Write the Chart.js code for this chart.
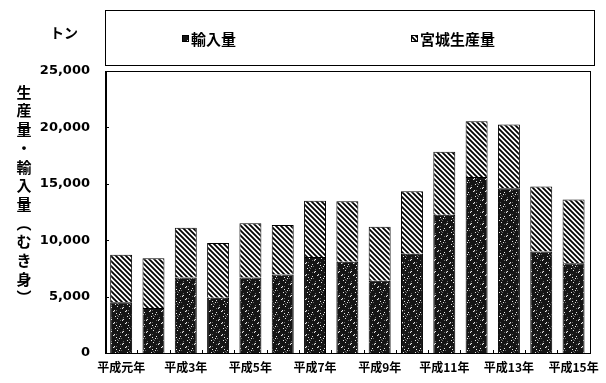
<!DOCTYPE html>
<html>
<head>
<meta charset="utf-8">
<script src="https://cdn.jsdelivr.net/npm/chart.js@4/dist/chart.umd.min.js"></script>
<style>
  html, body { margin: 0; padding: 0; background: #fff; }
  #wrap { width: 606px; height: 383px; position: relative; }
</style>
</head>
<body>
<div id="wrap"><canvas id="c" width="606" height="383"></canvas></div>
<script>
// 年次（平成元年〜平成15年）
const years = ['平成元年', '平成2年', '平成3年', '平成4年', '平成5年', '平成6年', '平成7年', '平成8年',
               '平成9年', '平成10年', '平成11年', '平成12年', '平成13年', '平成14年', '平成15年'];
// 輸入量（トン、むき身）
const importVol = [4500, 4000, 6700, 4900, 6700, 6950, 8500, 8100, 6400, 8800, 12250, 15600, 14600, 9000, 7950];
// 宮城生産量（トン、むき身）
const miyagiVol = [4200, 4400, 4400, 4850, 4800, 4400, 5000, 5350, 4800, 5550, 5600, 4950, 5650, 5750, 5650];
// 縦軸の目盛
const yTicks = [0, 5000, 10000, 15000, 20000, 25000];

const seriesNames = ['輸入量', '宮城生産量'];
const unitLabel = 'トン';
const yTitle = ['生', '産', '量', '・', '輸', '入', '量', '︵', 'む', 'き', '身', '︶'];

const JP = '"Noto Sans CJK JP", "Noto Sans", sans-serif';

// 網点パターン（輸入量）
function makeStipple() {
  const t = document.createElement('canvas');
  t.width = 12; t.height = 12;
  const g = t.getContext('2d');
  g.fillStyle = '#151515';
  g.fillRect(0, 0, 12, 12);
  for (let i = 0; i < 12; i++) {
    for (let j = 0; j < 12; j++) {
      const h = (i * 7 + j * 5 + i * j * 3) % 17;
      if (h === 0) { g.fillStyle = '#e8e8e8'; g.fillRect(i, j, 1, 1); }
      else if (h === 6) { g.fillStyle = '#666666'; g.fillRect(i, j, 1, 1); }
    }
  }
  return g.createPattern(t, 'repeat');
}

// 斜線パターン（宮城生産量）
function makeHatch() {
  const s = 5;
  const t = document.createElement('canvas');
  t.width = s; t.height = s;
  const g = t.getContext('2d');
  g.fillStyle = '#ffffff';
  g.fillRect(0, 0, s, s);
  g.strokeStyle = '#000000';
  g.lineWidth = 1.8;
  g.beginPath();
  g.moveTo(-1, -1); g.lineTo(s + 1, s + 1);
  g.moveTo(-1, s - 1); g.lineTo(1, s + 1);
  g.moveTo(s - 1, -1); g.lineTo(s + 1, 1);
  g.stroke();
  return g.createPattern(t, 'repeat');
}

const stipple = makeStipple();
const hatch = makeHatch();

// 枠・凡例・縦書きタイトルなどの描画
const decor = {
  id: 'decor',
  afterDraw(chart) {
    const ctx = chart.ctx;
    const a = chart.chartArea;
    const xs = chart.scales.x, ys = chart.scales.y;
    ctx.save();

    // プロット枠
    ctx.strokeStyle = '#000';
    ctx.lineWidth = 1;
    ctx.strokeRect(Math.round(a.left) + 0.5, Math.round(a.top) + 0.5,
                   Math.round(a.right - a.left), Math.round(a.bottom - a.top));
    ctx.lineWidth = 2;
    ctx.beginPath();
    ctx.moveTo(Math.round(a.left) + 1, a.top);
    ctx.lineTo(Math.round(a.left) + 1, a.bottom + 1);
    ctx.stroke();

    // 内向きの目盛線
    ctx.lineWidth = 1;
    ctx.beginPath();
    yTicks.forEach(v => {
      const y = Math.round(ys.getPixelForValue(v)) + 0.5;
      ctx.moveTo(a.left, y); ctx.lineTo(a.left + 4, y);
    });
    for (let i = 0; i <= years.length; i++) {
      const x = Math.round(xs.getPixelForValue(i - 0.5)) + 0.5;
      ctx.moveTo(x, a.bottom); ctx.lineTo(x, a.bottom - 3);
    }
    ctx.stroke();

    // 凡例枠
    ctx.strokeRect(105.5, 10.5, 489, 55);
    ctx.fillStyle = '#000';
    ctx.font = 'bold 15px ' + JP;
    ctx.textBaseline = 'middle';
    ctx.textAlign = 'left';
    const items = [
      { x: 182, fill: stipple, label: seriesNames[0] },
      { x: 411, fill: hatch, label: seriesNames[1] }
    ];
    items.forEach(it => {
      ctx.fillStyle = it.fill;
      ctx.fillRect(it.x, 35, 7, 7);
      ctx.strokeStyle = '#000';
      ctx.strokeRect(it.x + 0.5, 35.5, 6, 6);
      ctx.fillStyle = '#000';
      ctx.fillText(it.label, it.x + 9, 39);
    });

    // 単位
    ctx.font = 'bold 14px ' + JP;
    ctx.textAlign = 'center';
    ctx.fillText(unitLabel, 64, 33);

    // 縦書き軸タイトル
    ctx.font = 'bold 15px ' + JP;
    yTitle.forEach((ch, i) => {
      ctx.fillText(ch, 24, 92 + i * 18.7);
    });

    ctx.restore();
  }
};

new Chart(document.getElementById('c'), {
  type: 'bar',
  data: {
    labels: years,
    datasets: [
      {
        label: seriesNames[0],
        data: importVol,
        backgroundColor: stipple,
        borderColor: '#000',
        borderWidth: 1,
        barPercentage: 0.68,
        categoryPercentage: 1
      },
      {
        label: seriesNames[1],
        data: miyagiVol,
        backgroundColor: hatch,
        borderColor: '#000',
        borderWidth: 1,
        barPercentage: 0.68,
        categoryPercentage: 1
      }
    ]
  },
  options: {
    responsive: false,
    animation: false,
    devicePixelRatio: 1,
    layout: { padding: { top: 71, right: 11, bottom: 0, left: 0 } },
    plugins: {
      legend: { display: false },
      tooltip: { enabled: false },
      title: { display: false }
    },
    scales: {
      x: {
        stacked: true,
        grid: { display: false, drawTicks: false },
        border: { display: false },
        afterFit(s) { s.height = 30; },
        ticks: {
          autoSkip: false,
          maxRotation: 0,
          minRotation: 0,
          padding: 7,
          color: '#000',
          font: { family: JP, size: 12, weight: 'bold' },
          callback(v, i) { return i % 2 === 0 ? years[i] : ''; }
        }
      },
      y: {
        stacked: true,
        min: 0,
        max: 25000,
        grid: { display: false, drawTicks: false },
        border: { display: false },
        afterFit(s) { s.width = 105; },
        afterBuildTicks(s) { s.ticks = yTicks.map(v => ({ value: v })); },
        ticks: {
          padding: 15,
          color: '#000',
          font: { family: '"DejaVu Sans", sans-serif', size: 13, weight: 'bold' },
          callback(v) { return v.toLocaleString('en-US'); }
        }
      }
    }
  },
  plugins: [decor]
});
</script>
</body>
</html>
